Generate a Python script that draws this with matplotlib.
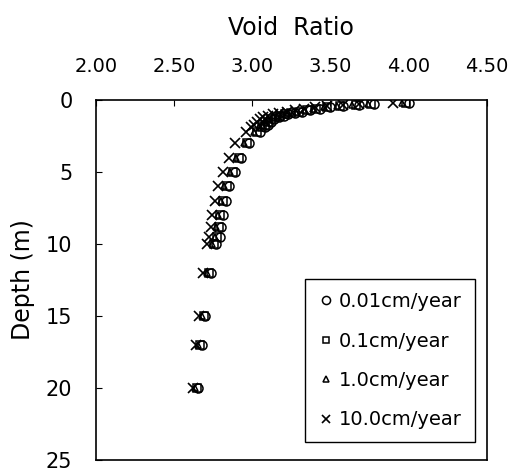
import matplotlib.pyplot as plt

# depth of each computed point (m)
depth = [0.2, 0.3, 0.35, 0.4, 0.5, 0.6, 0.7, 0.8, 0.9, 1.0, 1.1, 1.2, 1.35, 1.5, 1.7,
         1.9, 2.2, 3.0, 4.0, 5.0, 6.0, 7.0, 8.0, 8.8, 9.5, 10.0, 12.0, 15.0, 17.0, 20.0]

# void ratio for each deposition rate
e_001 = [4.00, 3.78, 3.68, 3.58, 3.50, 3.43, 3.37, 3.32, 3.27, 3.23, 3.20, 3.17, 3.14, 3.12, 3.10,
         3.08, 3.05, 2.98, 2.93, 2.89, 2.85, 2.83, 2.81, 2.80, 2.79, 2.77, 2.735, 2.70, 2.675, 2.655]
e_01 = [3.98, 3.76, 3.66, 3.56, 3.48, 3.41, 3.35, 3.30, 3.25, 3.21, 3.18, 3.15, 3.12, 3.10, 3.08,
        3.06, 3.03, 2.965, 2.915, 2.875, 2.835, 2.815, 2.795, 2.785, 2.775, 2.755, 2.725, 2.69, 2.665, 2.645]
e_1 = [3.96, 3.74, 3.64, 3.54, 3.46, 3.39, 3.33, 3.28, 3.23, 3.19, 3.16, 3.13, 3.10, 3.08, 3.06,
       3.04, 3.01, 2.945, 2.895, 2.855, 2.82, 2.80, 2.78, 2.77, 2.76, 2.74, 2.71, 2.68, 2.655, 2.635]
e_10 = [3.90, 3.68, 3.58, 3.48, 3.40, 3.33, 3.27, 3.22, 3.17, 3.13, 3.10, 3.07, 3.05, 3.03, 3.01,
        2.99, 2.96, 2.89, 2.85, 2.81, 2.78, 2.76, 2.745, 2.735, 2.725, 2.71, 2.685, 2.66, 2.64, 2.62]

labels = ['0.01cm/year', '0.1cm/year', '1.0cm/year', '10.0cm/year']
xticks = [2.0, 2.5, 3.0, 3.5, 4.0, 4.5]
yticks = [0, 5, 10, 15, 20, 25]

fig = plt.figure(figsize=(5.19, 4.73), dpi=100)
ax = fig.add_axes([0.185, 0.0275, 0.753, 0.761])

ax.plot(e_10, depth, 'x', color='black', ms=7, mew=1.2, label=labels[3])
ax.plot(e_1, depth, '^', mfc='none', mec='black', ms=5, mew=1.1, label=labels[2])
ax.plot(e_01, depth, 's', mfc='none', mec='black', ms=5.5, mew=1.1, label=labels[1])
ax.plot(e_001, depth, 'o', mfc='none', mec='black', ms=6.5, mew=1.1, label=labels[0])

ax.set_xlim(2.0, 4.5)
ax.set_ylim(25, 0)
ax.xaxis.tick_top()
ax.xaxis.set_label_position('top')
ax.set_xticks(xticks)
ax.set_xticklabels(['%.2f' % v for v in xticks], fontsize=14)
ax.set_yticks(yticks)
ax.set_yticklabels([str(v) for v in yticks], fontsize=15)
ax.tick_params(axis='both', direction='in', length=4, width=0.8)
ax.tick_params(axis='x', pad=17)
ax.tick_params(axis='y', pad=17)
ax.set_xlabel('Void  Ratio', fontsize=17, labelpad=16)
ax.set_ylabel('Depth (m)', fontsize=17, labelpad=8)
for s in ax.spines.values():
    s.set_linewidth(1.2)

# legend order: circle, square, triangle, cross
h, l = ax.get_legend_handles_labels()
order = [3, 2, 1, 0]
leg = ax.legend([h[i] for i in order], [l[i] for i in order],
                loc='lower right', bbox_to_anchor=(0.969, 0.05), fontsize=14,
                frameon=True, fancybox=False, edgecolor='black', framealpha=1,
                labelspacing=1.05, handlelength=0.8, handletextpad=0.3,
                borderpad=0.65, borderaxespad=0, markerscale=0.9)
leg.get_frame().set_linewidth(1.0)

fig.savefig('out.png', dpi=100)
